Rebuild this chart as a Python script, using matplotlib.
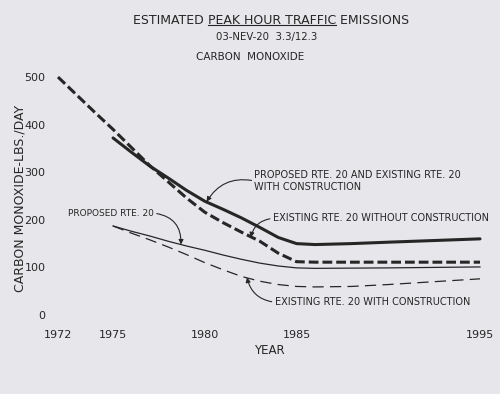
import matplotlib
matplotlib.use('Agg')
import matplotlib.pyplot as plt
from matplotlib.lines import Line2D

# values (lbs/day)
years_prop_exist = [1975, 1976, 1977, 1978, 1979, 1980, 1981, 1982, 1983, 1984, 1985, 1986, 1988, 1990, 1995]
prop_exist_with = [372, 342, 313, 288, 262, 239, 222, 204, 184, 163, 150, 148, 150, 153, 160]

years_exist_without = [1972, 1973, 1974, 1975, 1976, 1977, 1978, 1979, 1980, 1981, 1982, 1983, 1984, 1985, 1986, 1990, 1995]
exist_without = [500, 463, 426, 390, 352, 314, 280, 246, 216, 194, 174, 155, 130, 112, 111, 111, 111]

years_proposed = [1975, 1976, 1977, 1978, 1979, 1980, 1981, 1982, 1983, 1984, 1985, 1986, 1990, 1995]
proposed = [187, 176, 166, 155, 145, 136, 126, 117, 109, 103, 99, 98, 99, 101]

years_exist_with = [1975, 1976, 1977, 1978, 1979, 1980, 1981, 1982, 1983, 1984, 1985, 1986, 1988, 1990, 1995]
exist_with = [187, 172, 158, 143, 127, 110, 95, 81, 71, 64, 60, 59, 60, 64, 76]

x_ticks = [1972, 1975, 1980, 1985, 1995]
y_ticks = [0, 100, 200, 300, 400, 500]

bg = '#e7e7eb'
ink = '#262626'
font = ['DejaVu Sans']

fig = plt.figure(figsize=(5, 3.94), dpi=100, facecolor=bg)
ax = fig.add_axes([0.116, 0.2005, 0.844, 0.604])
ax.set_facecolor(bg)

ax.plot(years_prop_exist, prop_exist_with, color=ink, lw=2.2, clip_on=False,
        solid_capstyle='round')
ax.plot(years_exist_without, exist_without, color=ink, lw=2.2, clip_on=False,
        dashes=(3.2, 1.3), dash_capstyle='butt')
ax.plot(years_proposed, proposed, color=ink, lw=0.9, clip_on=False)
ax.plot(years_exist_with, exist_with, color=ink, lw=0.9, clip_on=False,
        dashes=(9, 5))

ax.set_xlim(1972, 1995)
ax.set_ylim(0, 500)
for s in ax.spines.values():
    s.set_visible(False)
ax.set_xticks(x_ticks)
ax.set_yticks(y_ticks)
ax.tick_params(length=0, labelsize=8, labelcolor=ink)
ax.tick_params(axis='x', pad=11)
ax.tick_params(axis='y', pad=9)
for lab in ax.get_xticklabels() + ax.get_yticklabels():
    lab.set_family(font)

ax.set_xlabel('YEAR', fontsize=8.5, color=ink, labelpad=3, family=font)
fig.text(0.04, 0.497, 'CARBON MONOXIDE-LBS./DAY', rotation=90, ha='center',
         va='center', fontsize=9, color=ink, family=font)

# title with underlined middle part
t1 = fig.text(133 / 500, 1 - 20 / 394, 'ESTIMATED ', fontsize=9, color=ink,
              va='center', ha='left', family=font)
t2 = ax.annotate('PEAK HOUR TRAFFIC', xy=(1, 0), xycoords=t1, va='bottom',
                 ha='left', fontsize=9, color=ink, family=font,
                 annotation_clip=False)
t3 = ax.annotate(' EMISSIONS', xy=(1, 0), xycoords=t2, va='bottom',
                 ha='left', fontsize=9, color=ink, family=font,
                 annotation_clip=False)
fig.text(267 / 500, 1 - 37 / 394, '03-NEV-20  3.3/12.3', fontsize=7.3, color=ink,
         ha='center', va='center', family=font)
fig.text(250 / 500, 1 - 57 / 394, 'CARBON  MONOXIDE', fontsize=7.5, color=ink,
         ha='center', va='center', family=font)

arrow = dict(arrowstyle='-|>', color=ink, lw=0.8, mutation_scale=7,
             shrinkA=0, shrinkB=0)

ax.annotate('PROPOSED RTE. 20 AND EXISTING RTE. 20\nWITH CONSTRUCTION',
            xy=(1980.1, 238), xytext=(1982.7, 304), fontsize=7, color=ink,
            ha='left', va='top', family=font, linespacing=1.15,
            arrowprops=dict(arrow, connectionstyle='arc3,rad=0.35',
                            relpos=(0, 0.5)))
ax.annotate('EXISTING RTE. 20 WITHOUT CONSTRUCTION',
            xy=(1982.5, 163), xytext=(1983.7, 203), fontsize=7, color=ink,
            ha='left', va='center', family=font,
            arrowprops=dict(arrow, connectionstyle='arc3,rad=0.35',
                            relpos=(0, 0.5)))
ax.annotate('PROPOSED RTE. 20',
            xy=(1978.7, 148), xytext=(1972.55, 214), fontsize=6.5, color=ink,
            ha='left', va='center', family=font,
            arrowprops=dict(arrow, connectionstyle='arc3,rad=-0.45',
                            relpos=(1, 0.5)))
ax.annotate('EXISTING RTE. 20 WITH CONSTRUCTION',
            xy=(1982.3, 79), xytext=(1983.8, 27), fontsize=7, color=ink,
            ha='left', va='center', family=font,
            arrowprops=dict(arrow, connectionstyle='arc3,rad=-0.35',
                            relpos=(0, 0.5)))

fig.canvas.draw()
bb = t2.get_window_extent()
fig.add_artist(Line2D([bb.x0, bb.x1], [bb.y0 + 1.5, bb.y0 + 1.5],
                      transform=None, color=ink, lw=0.8))

fig.savefig('out.png', dpi=100, facecolor=bg)
